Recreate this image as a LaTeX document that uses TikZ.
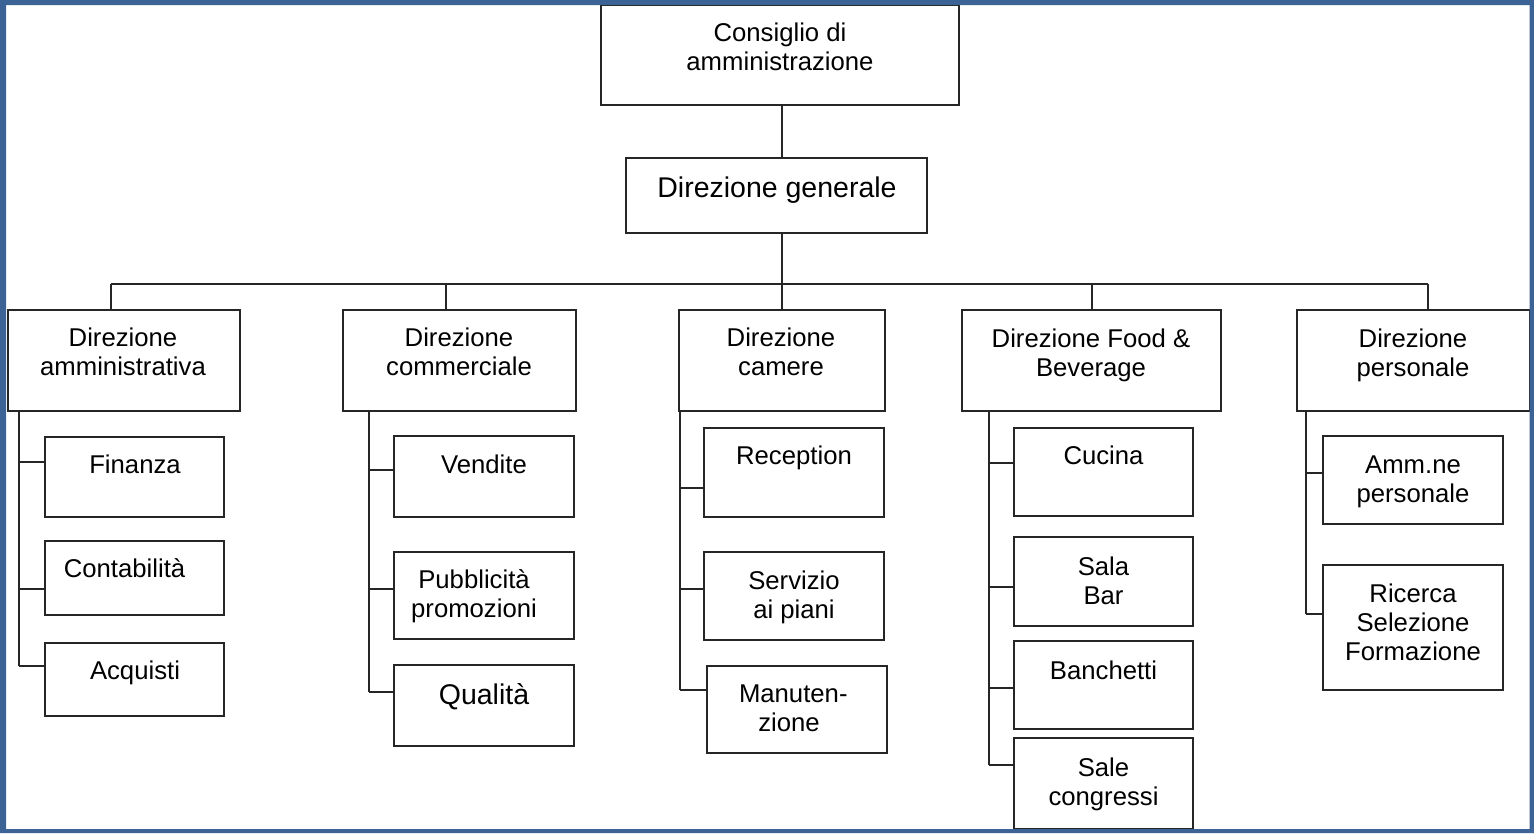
\documentclass[tikz,border=0pt]{standalone}
\usepackage{fontspec}
\setmainfont{Liberation Sans}
\definecolor{frameblue}{RGB}{59,99,150}
\definecolor{linec}{RGB}{38,38,38}
\begin{document}
\begin{tikzpicture}[x=1pt,y=-1pt,
  box/.style={draw=linec, line width=2pt, fill=white, rectangle, inner sep=0pt, outer sep=0pt},
  conn/.style={draw=linec, line width=2pt},
  txt/.style={font=\fontsize{25.7}{29}\selectfont, align=center, inner sep=0pt, text=black},
  bigtxt/.style={txt, font=\fontsize{28.5}{32}\selectfont}]
\useasboundingbox (0,0) rectangle (1534,833);
\fill[white] (0,0) rectangle (1534,833);

% top levels
\node[box, minimum width=358pt, minimum height=100pt] (cda) at (780,55) {};
\node[txt] (cdat) at (780,47) {Consiglio di\\amministrazione};
\node[box, minimum width=301pt, minimum height=75pt] (dg) at (776.5,195.5) {};
\node[bigtxt] (dgt) at (777,190) {Direzione generale};

% level 2
\node[box, minimum width=232pt, minimum height=101pt] (amm) at (124,360.5) {};
\node[txt] (ammt) at (123,352) {Direzione\\amministrativa};
\node[box, minimum width=233pt, minimum height=101pt] (com) at (459.5,360.5) {};
\node[txt] (comt) at (459,352) {Direzione\\commerciale};
\node[box, minimum width=206pt, minimum height=101pt] (cam) at (782,360.5) {};
\node[txt] (camt) at (781,352) {Direzione\\camere};
\node[box, minimum width=259pt, minimum height=101pt] (fb) at (1091.5,360.5) {};
\node[txt] (fbt) at (1091,355) {Direzione Food \&\\Beverage};
\node[box, minimum width=233pt, minimum height=101pt] (per) at (1413.5,360.5) {};
\node[txt] (pert) at (1413,355) {Direzione\\personale};

% amministrativa children
\node[box, minimum width=179pt, minimum height=80.3pt] (fin) at (134.5,476.85) {};
\node[txt] (fint) at (135,464) {Finanza};
\node[box, minimum width=179pt, minimum height=73.7pt] (con) at (134.5,577.85) {};
\node[txt] (cont) at (124.5,568) {Contabilità};
\node[box, minimum width=179pt, minimum height=73.3pt] (acq) at (134.5,679.35) {};
\node[txt] (acqt) at (135,673) {Acquisti};

% commerciale children
\node[box, minimum width=180pt, minimum height=81.3pt] (ven) at (484,476.35) {};
\node[txt] (vent) at (484,464) {Vendite};
\node[box, minimum width=180pt, minimum height=87.3pt] (pub) at (484,595.35) {};
\node[txt] (pubt) at (474,596) {Pubblicità\\promozioni};
\node[box, minimum width=180pt, minimum height=80.7pt] (qua) at (484,705.35) {};
\node[bigtxt] (quat) at (484,697) {Qualità};

% camere children
\node[box, minimum width=180.4pt, minimum height=89pt] (rec) at (794.2,472.2) {};
\node[txt] (rect) at (794,458) {Reception};
\node[box, minimum width=180pt, minimum height=88.3pt] (ser) at (794,595.85) {};
\node[txt] (sert) at (794,597) {Servizio\\ai piani};
\node[box, minimum width=179.7pt, minimum height=87.6pt] (man) at (796.85,709.5) {};
\node[txt] (mant) at (789,708) {Manuten\rlap{-}\\zione};

% food & beverage children
\node[box, minimum width=179.6pt, minimum height=87.5pt] (cuc) at (1103.5,471.75) {};
\node[txt] (cuct) at (1103.5,455.5) {Cucina};
\node[box, minimum width=179.6pt, minimum height=88.5pt] (sal) at (1103.5,581.25) {};
\node[txt] (salt) at (1103.5,580.5) {Sala\\Bar};
\node[box, minimum width=179.6pt, minimum height=87.6pt] (ban) at (1103.5,685.2) {};
\node[txt] (bant) at (1103.5,670) {Banchetti};
\node[box, minimum width=179.6pt, minimum height=91pt] (sco) at (1103.5,783.5) {};
\node[txt] (scot) at (1103.5,784.5) {Sale\\congressi};

% personale children
\node[box, minimum width=180pt, minimum height=88pt] (amn) at (1413.3,480) {};
\node[txt] (amnt) at (1413,482) {Amm.ne\\personale};
\node[box, minimum width=180pt, minimum height=125pt] (ric) at (1413.3,627) {};
\node[txt] (rict) at (1413,622) {Ricerca\\Selezione\\Formazione};

% bus coordinates
\coordinate (tA) at (110.7,284.3);
\coordinate (tC) at (446,284.3);
\coordinate (tM) at (781.7,284.3);
\coordinate (tF) at (1091.7,284.3);
\coordinate (tP) at (1427.7,284.3);

\draw[conn] (cda.south -| tM) -- (dg.north -| tM);
\draw[conn] (dg.south -| tM) -- (tM);
\draw[conn] (tA) -- (tP);
\draw[conn] (tA) -- (tA |- amm.north);
\draw[conn] (tC) -- (tC |- com.north);
\draw[conn] (tM) -- (tM |- cam.north);
\draw[conn] (tF) -- (tF |- fb.north);
\draw[conn] (tP) -- (tP |- per.north);

% junction coordinates
\coordinate (jfin) at (19.3,462);
\coordinate (jcon) at (19.3,588.7);
\coordinate (jacq) at (19.3,665.7);
\coordinate (jven) at (369,470);
\coordinate (jpub) at (369,589);
\coordinate (jqua) at (369,691.7);
\coordinate (jrec) at (679.5,487.7);
\coordinate (jser) at (679.5,589.3);
\coordinate (jman) at (679.5,690);
\coordinate (jcuc) at (989,462.5);
\coordinate (jsal) at (989,587);
\coordinate (jban) at (989,688);
\coordinate (jsco) at (989,765);
\coordinate (jamn) at (1306,473);
\coordinate (jric) at (1306,613.8);

\draw[conn] (amm.south -| jacq) -- (jacq);
\draw[conn] (jfin) -- (jfin -| fin.west);
\draw[conn] (jcon) -- (jcon -| con.west);
\draw[conn] (jacq) -- (jacq -| acq.west);

\draw[conn] (com.south -| jqua) -- (jqua);
\draw[conn] (jven) -- (jven -| ven.west);
\draw[conn] (jpub) -- (jpub -| pub.west);
\draw[conn] (jqua) -- (jqua -| qua.west);

\draw[conn] (cam.south -| jman) -- (jman);
\draw[conn] (jrec) -- (jrec -| rec.west);
\draw[conn] (jser) -- (jser -| ser.west);
\draw[conn] (jman) -- (jman -| man.west);

\draw[conn] (fb.south -| jsco) -- (jsco);
\draw[conn] (jcuc) -- (jcuc -| cuc.west);
\draw[conn] (jsal) -- (jsal -| sal.west);
\draw[conn] (jban) -- (jban -| ban.west);
\draw[conn] (jsco) -- (jsco -| sco.west);

\draw[conn] (per.south -| jric) -- (jric);
\draw[conn] (jamn) -- (jamn -| amn.west);
\draw[conn] (jric) -- (jric -| ric.west);

% outer frame
\fill[frameblue, even odd rule] (0,0) rectangle (1534,833) (6,5) rectangle (1529.5,829);
\end{tikzpicture}
\end{document}
